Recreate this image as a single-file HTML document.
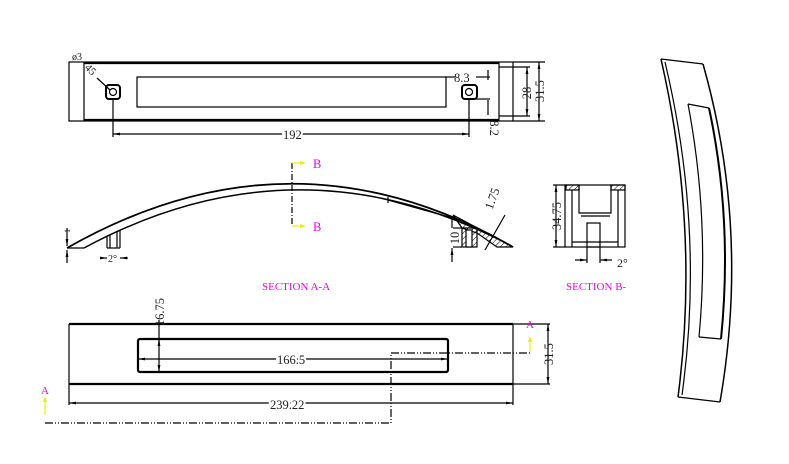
<!DOCTYPE html>
<html><head><meta charset="utf-8"><style>
html,body{margin:0;padding:0;background:#fff}
svg{display:block}
text{font-family:"Liberation Serif",serif;fill:#222}
</style></head><body>
<svg width="789" height="464" viewBox="0 0 789 464" xmlns="http://www.w3.org/2000/svg">
<defs>
<marker id="ar" viewBox="0 0 10 10" refX="10" refY="5" markerWidth="6" markerHeight="6" orient="auto-start-reverse"><path d="M0,3 L10,5 L0,7z" fill="#000"/></marker>
<pattern id="h" width="4" height="4" patternUnits="userSpaceOnUse" patternTransform="rotate(45)"><line x1="0" y1="0" x2="0" y2="4" stroke="#000" stroke-width="1"/></pattern>
</defs>
<g fill="none" stroke="#000" stroke-width="1.2">
<!-- TOP VIEW -->
<rect x="69" y="62" width="444" height="59"/>
<line x1="84" y1="62" x2="84" y2="121"/>
<line x1="84" y1="63" x2="499" y2="63" stroke-width="2.2"/>
<line x1="84" y1="120" x2="499" y2="120" stroke-width="2.2"/>
<line x1="499" y1="62" x2="499" y2="121"/>
<rect x="137" y="77" width="309" height="30"/>
<rect x="106" y="85" width="14" height="14" rx="3" stroke-width="2"/>
<circle cx="113" cy="92" r="3.5"/>
<rect x="462" y="85" width="15" height="14" rx="3" stroke-width="2"/>
<circle cx="469" cy="92" r="3.5"/>
<line x1="113" y1="99" x2="113" y2="137"/>
<line x1="469" y1="99" x2="469" y2="137"/>
<line x1="113" y1="134" x2="469" y2="134" marker-start="url(#ar)" marker-end="url(#ar)"/>
<line x1="513" y1="62" x2="545" y2="62"/>
<line x1="513" y1="121" x2="545" y2="121"/>
<line x1="499" y1="67" x2="530" y2="67"/>
<line x1="499" y1="116" x2="530" y2="116"/>
<line x1="527" y1="67" x2="527" y2="116" marker-start="url(#ar)" marker-end="url(#ar)"/>
<line x1="539" y1="62" x2="539" y2="121" marker-start="url(#ar)" marker-end="url(#ar)"/>
<line x1="455" y1="77" x2="445" y2="77"/>
<line x1="476" y1="77" x2="490" y2="77"/><line x1="488" y1="70" x2="488" y2="80"/>
<line x1="476" y1="99" x2="490" y2="99"/><line x1="488" y1="100" x2="488" y2="115"/>
<line x1="97" y1="78" x2="110" y2="90"/>
<!-- SECTION A-A -->
<path d="M67,248 Q292,120 513,247" stroke-width="1.8"/>
<path d="M84,248 Q292,136 500,240" stroke-width="1.5"/>
<line x1="67" y1="248" x2="84" y2="248"/>
<line x1="107" y1="236" x2="107" y2="248"/><line x1="110" y1="235" x2="110" y2="248"/>
<line x1="117" y1="232" x2="117" y2="248"/><line x1="120" y1="231" x2="120" y2="248"/>
<line x1="107" y1="248" x2="120" y2="248"/>
<line x1="100" y1="258" x2="107" y2="258" marker-end="url(#ar)"/>
<line x1="128" y1="258" x2="120" y2="258" marker-end="url(#ar)"/>
<line x1="67" y1="228" x2="67" y2="246" marker-end="url(#ar)"/>
<line x1="67" y1="263" x2="67" y2="250" marker-end="url(#ar)"/>
<line x1="388" y1="197" x2="388" y2="203"/>
<path d="M388,200 L460,220"/>
<path d="M453,215 L513,247 L497,247 L477,233 L462,228z" fill="url(#h)"/>
<rect x="462" y="228" width="15" height="19" fill="url(#h)"/>
<rect x="466" y="230" width="6" height="17" fill="#fff"/>
<line x1="453" y1="228" x2="462" y2="228"/>
<line x1="453" y1="247" x2="462" y2="247"/>
<line x1="452" y1="218" x2="452" y2="228"/>
<line x1="452" y1="262" x2="452" y2="248" marker-end="url(#ar)"/>
<line x1="485" y1="250" x2="505" y2="215"/>
<line x1="292" y1="163" x2="292" y2="226" stroke-dasharray="6,2,1,2"/>
<line x1="292" y1="163" x2="300" y2="163" stroke="#ee0"/>
<line x1="292" y1="226" x2="300" y2="226" stroke="#ee0"/>
<path d="M300,161 L306,163 L300,165z M300,224 L306,226 L300,228z" fill="#ee0" stroke="none"/>
<!-- SECTION B -->
<rect x="565" y="185" width="60" height="62"/>
<line x1="572" y1="190" x2="572" y2="247"/>
<line x1="618" y1="190" x2="618" y2="247"/>
<rect x="566" y="185" width="13" height="5" fill="url(#h)"/>
<rect x="611" y="185" width="14" height="5" fill="url(#h)"/>
<polyline points="579,185 579,213 611,213 611,185"/>
<line x1="581" y1="216" x2="610" y2="216"/>
<rect x="587" y="223" width="13" height="24"/>
<line x1="572" y1="242" x2="618" y2="242"/>
<line x1="553" y1="185" x2="565" y2="185"/>
<line x1="553" y1="247" x2="565" y2="247"/>
<line x1="556" y1="185" x2="556" y2="247" marker-start="url(#ar)" marker-end="url(#ar)"/>
<line x1="587" y1="247" x2="587" y2="263"/><line x1="600" y1="247" x2="600" y2="263"/>
<line x1="575" y1="260" x2="587" y2="260" marker-end="url(#ar)"/>
<line x1="612" y1="260" x2="600" y2="260" marker-end="url(#ar)"/>
<!-- BOTTOM VIEW -->
<line x1="69" y1="324" x2="513" y2="324" stroke-width="2.2"/>
<line x1="69" y1="384" x2="513" y2="384" stroke-width="2.2"/>
<line x1="69" y1="324" x2="69" y2="405"/>
<line x1="513" y1="324" x2="513" y2="405"/>
<rect x="138" y="339" width="310" height="33" rx="2" stroke-width="2.2"/>
<line x1="69" y1="403" x2="513" y2="403" marker-start="url(#ar)" marker-end="url(#ar)"/>
<line x1="138" y1="359" x2="448" y2="359" marker-start="url(#ar)" marker-end="url(#ar)"/>
<line x1="159" y1="320" x2="159" y2="372" marker-end="url(#ar)"/>
<line x1="159" y1="345" x2="159" y2="339" marker-end="url(#ar)"/>
<line x1="513" y1="324" x2="550" y2="324"/>
<line x1="513" y1="384" x2="550" y2="384"/>
<line x1="548" y1="324" x2="548" y2="384" marker-start="url(#ar)" marker-end="url(#ar)"/>
<polyline points="45,423 391,423 391,353 531,353" stroke-dasharray="8,2,1,2,1,2"/>
<line x1="45" y1="400" x2="45" y2="415" stroke="#ee0"/>
<line x1="530" y1="340" x2="530" y2="352" stroke="#ee0"/>
<path d="M43,402 L45,396 L47,402z M528,342 L530,336 L532,342z" fill="#ee0" stroke="none"/>
<!-- PERSPECTIVE -->
<path d="M661,59 L703,64"/>
<path d="M661,59 Q700,230 678,397" stroke-width="1.5"/>
<path d="M665,62 Q705,230 682,395"/>
<path d="M703,64 Q750,230 720,402" stroke-width="1.5"/>
<path d="M678,397 L720,402"/>
<path d="M688,104 L709,108"/>
<path d="M688,104 Q710,220 699,337"/>
<path d="M709,108 Q733,220 721,339" stroke-width="2"/>
<path d="M699,337 L721,339"/>
</g>
<g font-size="12.5">
<text x="283" y="139" stroke="#fff" stroke-width="4" paint-order="stroke">192</text>
<text x="277" y="364" stroke="#fff" stroke-width="4" paint-order="stroke">166.5</text>
<text x="270" y="409" stroke="#fff" stroke-width="4" paint-order="stroke">239.22</text>
<text x="454" y="82">8.3</text>
<text transform="translate(531,93) rotate(-90)" text-anchor="middle">28</text>
<text transform="translate(544,91) rotate(-90)" text-anchor="middle">31.5</text>
<text transform="translate(553,354) rotate(-90)" text-anchor="middle">31.5</text>
<text transform="translate(164,312) rotate(-90)" text-anchor="middle">16.75</text>
<text transform="translate(561,216) rotate(-90)" text-anchor="middle">34.75</text>
<text transform="translate(459,238) rotate(-90)" text-anchor="middle">10</text>
<text transform="translate(496,200) rotate(-70)" text-anchor="middle">1.75</text>
<text transform="translate(490,128) rotate(90)" text-anchor="middle">8.2</text>
<text transform="translate(88,72) rotate(45)" text-anchor="middle" font-size="11">45</text>
<text x="72" y="60" font-size="10">ø3</text>
<text x="108" y="262" font-size="10">2°</text>
<text x="617" y="267" font-size="12">2°</text>
<text transform="translate(70,233) rotate(-90)" font-size="8">1</text>
<text x="313" y="168" style="fill:#e0e">B</text>
<text x="313" y="231" style="fill:#e0e">B</text>
<text x="262" y="290" style="fill:#e0e" font-size="11">SECTION A-A</text>
<text x="566" y="290" style="fill:#e0e" font-size="11">SECTION B-</text>
<text x="41" y="394" style="fill:#e0e" font-size="11">A</text>
<text x="526" y="328" style="fill:#e0e" font-size="11">A</text>
</g>
</svg>
</body></html>
